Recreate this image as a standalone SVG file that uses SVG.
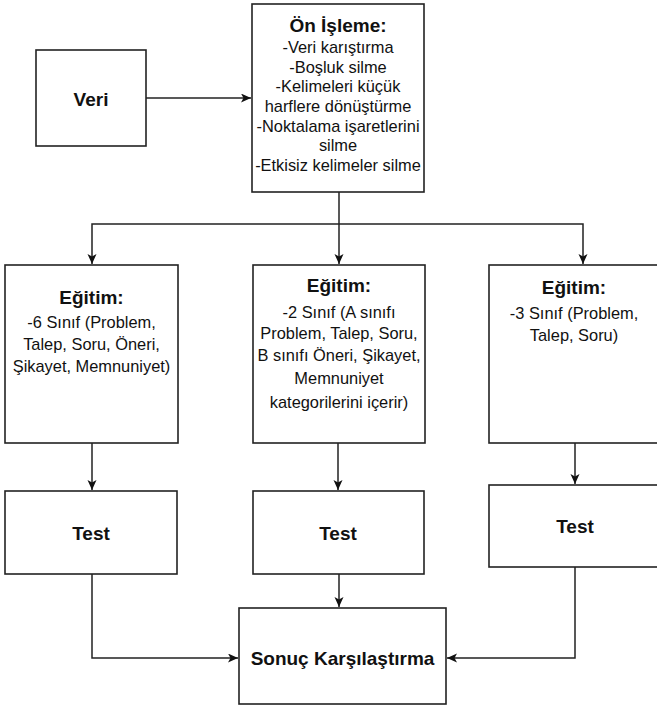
<svg xmlns="http://www.w3.org/2000/svg" width="657" height="713" viewBox="0 0 657 713">
<style>
.box{fill:#fff;stroke:#222;stroke-width:1.6}
.edge{fill:none;stroke:#222;stroke-width:1.5}
text{font-family:"Liberation Sans",Arial,sans-serif;fill:#111;text-anchor:middle}
.b{font-weight:bold;font-size:19px}
.t{font-size:16.4px}
</style>
<defs>
<marker id="arr" markerUnits="userSpaceOnUse" markerWidth="12" markerHeight="10" refX="10" refY="4.5" orient="auto">
<path d="M0,0 L10,4.5 L0,9 L2.5,4.5 z" fill="#111"/>
</marker>
</defs>
<rect width="657" height="713" fill="#fff"/>
<g id="edges">
<line class="edge" x1="146" y1="98" x2="251" y2="98" marker-end="url(#arr)"/>
<line class="edge" x1="339" y1="192" x2="339" y2="264" marker-end="url(#arr)"/>
<polyline class="edge" points="339,224 92,224 92,264" marker-end="url(#arr)"/>
<polyline class="edge" points="339,224 583,224 583,264" marker-end="url(#arr)"/>
<line class="edge" x1="92" y1="443" x2="92" y2="490" marker-end="url(#arr)"/>
<line class="edge" x1="338" y1="443" x2="338" y2="490" marker-end="url(#arr)"/>
<line class="edge" x1="575" y1="443" x2="575" y2="484" marker-end="url(#arr)"/>
<line class="edge" x1="339" y1="574" x2="339" y2="607" marker-end="url(#arr)"/>
<polyline class="edge" points="92,574 92,658 238,658" marker-end="url(#arr)"/>
<polyline class="edge" points="575,567 575,658 447,658" marker-end="url(#arr)"/>
</g>
<g id="veri">
<rect class="box" x="36" y="50" width="110" height="96"/>
<text class="b" x="91" y="106">Veri</text>
</g>
<g id="on-isleme">
<rect class="box" x="252" y="4" width="172" height="188"/>
<text class="b" x="338" y="32">Ön İşleme:</text>
<text class="t" x="338" y="53">-Veri karıştırma</text>
<text class="t" x="338" y="73">-Boşluk silme</text>
<text class="t" x="338" y="92">-Kelimeleri küçük</text>
<text class="t" x="338" y="112">harflere dönüştürme</text>
<text class="t" x="338" y="132">-Noktalama işaretlerini</text>
<text class="t" x="338" y="151">silme</text>
<text class="t" x="338" y="171">-Etkisiz kelimeler silme</text>
</g>
<g id="egitim-1">
<rect class="box" x="5" y="265" width="173" height="178"/>
<text class="b" x="91.5" y="304">Eğitim:</text>
<text class="t" x="91.5" y="328">-6 Sınıf (Problem,</text>
<text class="t" x="91.5" y="350">Talep, Soru, Öneri,</text>
<text class="t" x="91.5" y="372">Şikayet, Memnuniyet)</text>
</g>
<g id="egitim-2">
<rect class="box" x="253" y="265" width="172" height="178"/>
<text class="b" x="339" y="292">Eğitim:</text>
<text class="t" x="339" y="318">-2 Sınıf (A sınıfı</text>
<text class="t" x="339" y="339">Problem, Talep, Soru,</text>
<text class="t" x="339" y="361">B sınıfı Öneri, Şikayet,</text>
<text class="t" x="339" y="384">Memnuniyet</text>
<text class="t" x="339" y="408">kategorilerini içerir)</text>
</g>
<g id="egitim-3">
<rect class="box" x="489" y="265" width="171" height="178"/>
<text class="b" x="574" y="294">Eğitim:</text>
<text class="t" x="574" y="319">-3 Sınıf (Problem,</text>
<text class="t" x="574" y="341">Talep, Soru)</text>
</g>
<g id="test-1">
<rect class="box" x="5" y="491" width="172" height="83"/>
<text class="b" x="91" y="540">Test</text>
</g>
<g id="test-2">
<rect class="box" x="253" y="491" width="171" height="83"/>
<text class="b" x="338" y="540">Test</text>
</g>
<g id="test-3">
<rect class="box" x="489" y="485" width="172" height="82"/>
<text class="b" x="575" y="533">Test</text>
</g>
<g id="sonuc">
<rect class="box" x="239" y="608" width="207" height="96"/>
<text class="b" x="342.5" y="665">Sonuç Karşılaştırma</text>
</g>
</svg>
